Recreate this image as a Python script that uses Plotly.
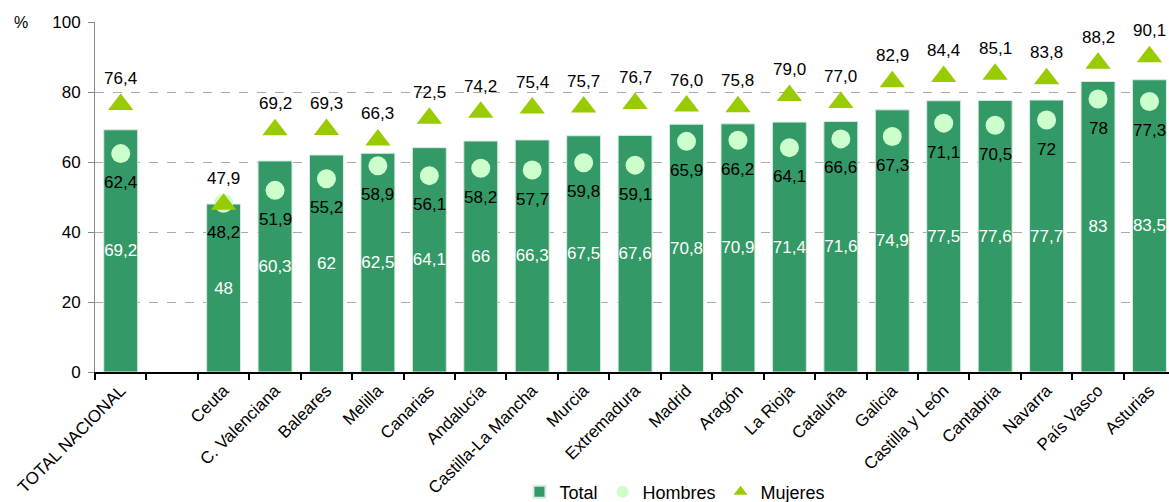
import plotly.graph_objects as go

categories = ["TOTAL NACIONAL", " ", "Ceuta", "C. Valenciana", "Baleares", "Melilla", "Canarias",
              "Andalucía", "Castilla-La Mancha", "Murcia", "Extremadura", "Madrid", "Aragón",
              "La Rioja", "Cataluña", "Galicia", "Castilla y León", "Cantabria", "Navarra",
              "País Vasco", "Asturias"]
total = [69.2, None, 48, 60.3, 62, 62.5, 64.1, 66, 66.3, 67.5, 67.6, 70.8, 70.9, 71.4, 71.6,
         74.9, 77.5, 77.6, 77.7, 83, 83.5]
hombres = [62.4, None, 48.2, 51.9, 55.2, 58.9, 56.1, 58.2, 57.7, 59.8, 59.1, 65.9, 66.2, 64.1,
           66.6, 67.3, 71.1, 70.5, 72, 78, 77.3]
mujeres = [76.4, None, 47.9, 69.2, 69.3, 66.3, 72.5, 74.2, 75.4, 75.7, 76.7, 76.0, 75.8, 79.0,
           77.0, 82.9, 84.4, 85.1, 83.8, 88.2, 90.1]
y_ticks = [0, 20, 40, 60, 80, 100]


def fmt_g(v):
    return "" if v is None else f"{v:g}".replace(".", ",")


def fmt_1(v):
    return "" if v is None else f"{v:.1f}".replace(".", ",")


FONT = "Liberation Sans, Arial, sans-serif"

fig = go.Figure()
fig.add_trace(go.Bar(
    x=categories, y=total, name="Total",
    marker=dict(color="#339966", line=dict(color="#d9ece0", width=1)),
    text=[fmt_g(v) for v in total], textposition="inside", insidetextanchor="middle",
    constraintext="none", cliponaxis=False,
    textfont=dict(color="white", size=17, family=FONT), textangle=0,
))
fig.add_trace(go.Scatter(
    x=categories, y=hombres, name="Hombres", mode="markers",
    marker=dict(symbol="circle", size=19, color="#ccffcc"), cliponaxis=False,
))
fig.add_trace(go.Scatter(
    x=categories, y=mujeres, name="Mujeres", mode="markers",
    marker=dict(symbol="triangle-up", size=22, color="#99cc00"), cliponaxis=False,
))

annotations = []
for c, v in zip(categories, hombres):
    if v is None:
        continue
    annotations.append(dict(x=c, y=v, xref="x", yref="y", text=fmt_g(v), showarrow=False,
                            yshift=-29, xanchor="center", yanchor="middle",
                            font=dict(size=17, color="black", family=FONT)))
for c, v in zip(categories, mujeres):
    if v is None:
        continue
    annotations.append(dict(x=c, y=v, xref="x", yref="y", text=fmt_1(v), showarrow=False,
                            yshift=26, xanchor="center", yanchor="middle",
                            font=dict(size=17, color="black", family=FONT)))
annotations.append(dict(text="%", xref="paper", yref="paper", x=-0.069, y=1.0,
                        xanchor="center", yanchor="middle", showarrow=False,
                        font=dict(size=16, family=FONT)))

fig.update_layout(
    width=1169, height=502,
    margin=dict(l=95, r=0, t=22, b=130, autoexpand=False),
    plot_bgcolor="white", paper_bgcolor="white",
    font=dict(family=FONT, size=16, color="black"),
    bargap=0.34,
    showlegend=True,
    legend=dict(orientation="h", x=0.54, xanchor="center", y=-0.29, yanchor="top",
                font=dict(size=18), itemsizing="constant", tracegroupgap=0,
                itemwidth=30),
    xaxis=dict(
        type="category", categoryorder="array", categoryarray=categories,
        range=[-0.5, 20.38], tickangle=-45, tickson="boundaries", ticks="outside",
        ticklen=6, tickcolor="black", tickwidth=2, automargin=False,
        showline=True, linecolor="black", linewidth=2, showgrid=False,
        tickfont=dict(size=17),
    ),
    yaxis=dict(
        range=[0, 100], tickvals=y_ticks, ticks="outside", ticklen=6, tickcolor="#888888",
        showline=True, linecolor="#888888", linewidth=1, automargin=False,
        showgrid=True, gridcolor="#aaaaaa", griddash="dash", gridwidth=1,
        zeroline=False, tickfont=dict(size=17), ticklabelstandoff=4,
    ),
    annotations=annotations,
)

fig.write_html("out.html", config={"displayModeBar": False},
               post_script="document.body.style.margin='0';document.body.style.overflow='hidden';")
